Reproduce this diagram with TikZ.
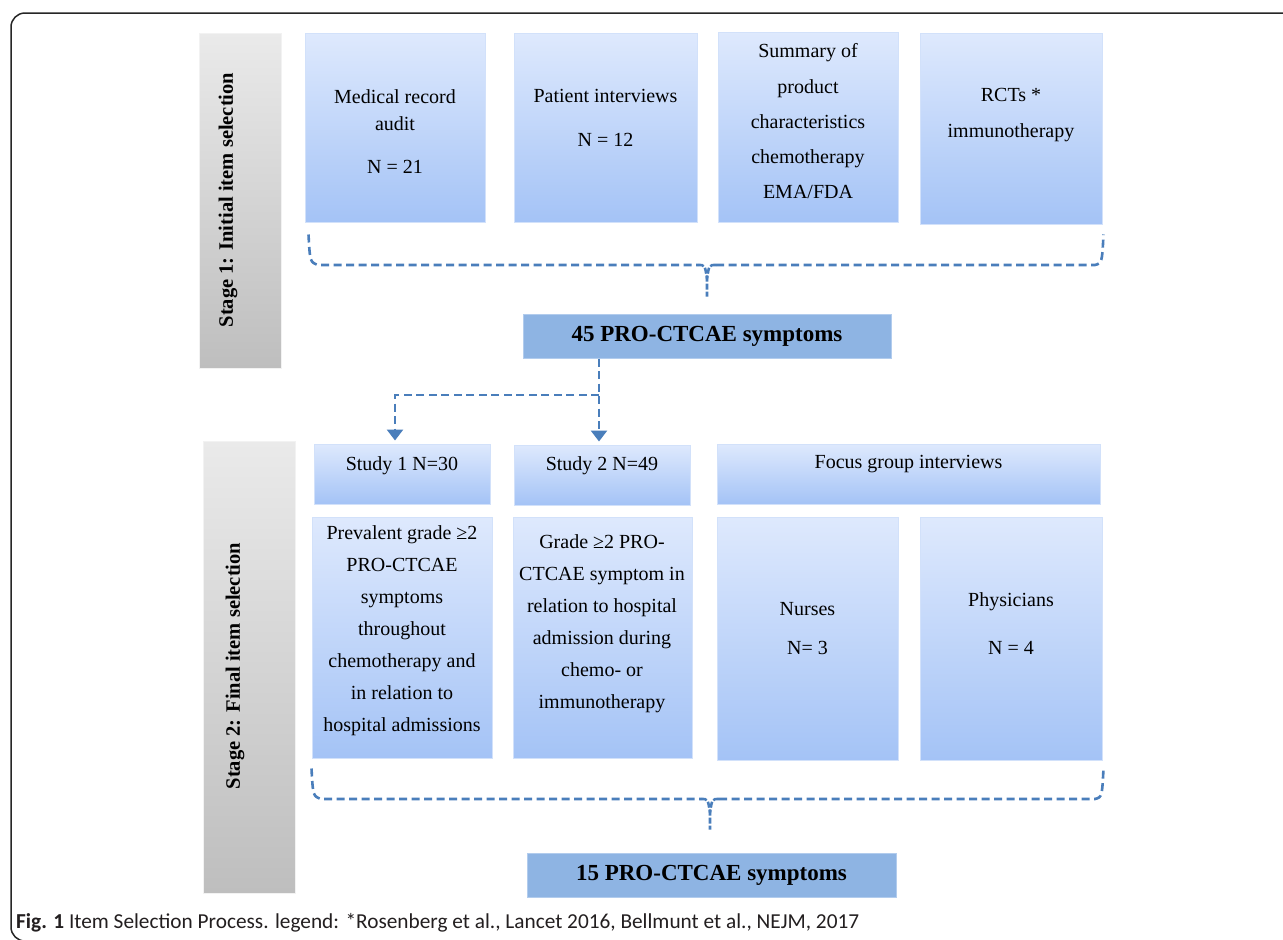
\documentclass[tikz,border=0pt]{standalone}
\usepackage{fontspec}
\setmainfont{Liberation Serif}
\newfontfamily\capfont{Carlito}
\usetikzlibrary{arrows.meta,calc}
\definecolor{boxtop}{RGB}{222,233,253}
\definecolor{boxbot}{RGB}{164,195,246}
\definecolor{boxedge}{RGB}{210,225,250}
\definecolor{sumfill}{RGB}{142,180,227}
\definecolor{sumedge}{RGB}{178,204,237}
\definecolor{grtop}{RGB}{234,234,234}
\definecolor{grbot}{RGB}{190,190,190}
\definecolor{dashc}{RGB}{74,126,187}
\definecolor{capc}{RGB}{35,31,32}
\begin{document}
\begin{tikzpicture}[x=1pt,y=-1pt,
 bluebox/.style={draw=boxedge, line width=1pt, top color=boxtop, bottom color=boxbot, inner sep=0pt},
 sumbox/.style={draw=sumedge, line width=1pt, fill=sumfill, inner sep=0pt},
 stagebar/.style={draw=grtop!60!white, line width=1pt, top color=grtop, bottom color=grbot, inner sep=0pt},
 txt/.style={font=\fontsize{20}{27}\selectfont, align=center, inner sep=0pt},
 bold/.style={font=\fontsize{23}{26}\selectfont\bfseries, inner sep=0pt},
 stagetxt/.style={font=\fontsize{20.5}{24}\selectfont\bfseries, rotate=90, inner sep=0pt},
 dashline/.style={draw=dashc, line width=2.6pt, dash pattern=on 8pt off 4.5pt},
 tip/.style={-{Triangle[width=16pt,length=11pt]}},
]
\useasboundingbox (0,0) rectangle (1283,940);
\fill[white] (0,0) rectangle (1283,940);
% frame
\draw[line width=1.5pt, draw=black!85, rounded corners=14pt] (11,13) rectangle (1310,941);

% stage bars
\node[stagebar, minimum width=82, minimum height=335] (st1) at (240,200.5) {};
\node[stagetxt] (st1t) at (228,200) {Stage 1: Initial item selection};
\node[stagebar, minimum width=92, minimum height=452] (st2) at (249,667) {};
\node[stagetxt] (st2t) at (235,666) {Stage 2: Final item selection};

% top row
\node[bluebox, minimum width=180, minimum height=189] (b1) at (395,127.5) {};
\node[bluebox, minimum width=183, minimum height=189] (b2) at (605.5,127.5) {};
\node[bluebox, minimum width=180, minimum height=190] (b3) at (808,127) {};
\node[bluebox, minimum width=182, minimum height=191] (b4) at (1011,128.5) {};
\node[txt] (b1a) at (395,110.5) {Medical record\\audit};
\node[txt] (b1b) at (395,167) {N = 21};
\node[txt] (b2a) at (605.5,96) {Patient interviews};
\node[txt] (b2b) at (605.5,140) {N = 12};
\node[txt, font=\fontsize{20}{35.25}\selectfont] (b3a) at (808,121.5) {Summary of\\product\\characteristics\\chemotherapy\\EMA/FDA};
\node[txt, font=\fontsize{20}{36}\selectfont] (b4a) at (1011,115) {RCTs *\\immunotherapy};

% 45 box
\node[sumbox, minimum width=368, minimum height=44] (t45) at (707,336) {};
\node[bold] (t45t) at (707,336) {45 PRO-CTCAE symptoms};

% stage 2 boxes
\node[bluebox, minimum width=176, minimum height=60] (s1) at (402,474) {};
\node[bluebox, minimum width=176, minimum height=60] (s2) at (602,475) {};
\node[bluebox, minimum width=383, minimum height=60] (fg) at (908.5,474) {};
\node[txt] (s1t) at (402,466) {Study 1 N=30};
\node[txt] (s2t) at (602,466) {Study 2 N=49};
\node[txt] (fgt) at (908.5,464) {Focus group interviews};

\node[bluebox, minimum width=180, minimum height=241] (r1) at (402,637.5) {};
\node[bluebox, minimum width=179, minimum height=241] (r2) at (602.5,637.5) {};
\node[bluebox, minimum width=181, minimum height=243] (nu) at (807.5,638.5) {};
\node[bluebox, minimum width=182, minimum height=243] (ph) at (1011,638.5) {};
\node[txt, font=\fontsize{20}{32}\selectfont] (r1t) at (402,631) {Prevalent grade ≥2\\PRO-CTCAE\\symptoms\\throughout\\chemotherapy and\\in relation to\\hospital admissions};
\node[txt, font=\fontsize{20}{32}\selectfont] (r2t) at (602,624) {Grade ≥2 PRO-\\CTCAE symptom in\\relation to hospital\\admission during\\chemo- or\\immunotherapy};
\node[txt, font=\fontsize{20}{39}\selectfont] (nut) at (807.5,628.5) {Nurses\\N= 3};
\node[txt, font=\fontsize{20}{48}\selectfont] (pht) at (1011,624) {Physicians\\N = 4};

% 15 box
\node[sumbox, minimum width=369, minimum height=44] (t15) at (711.5,875) {};
\node[bold] (t15t) at (711.5,875) {15 PRO-CTCAE symptoms};

% brace 1
\coordinate (k1l) at ($(b1.south west)+(4,12)$);
\coordinate (k1r) at ($(b4.south east)+(1,10)$);
\coordinate (k1m) at ($(t45.north)+(0,-17)$);
\draw[dashline] (k1l) .. controls (310,262) .. (318,265) -- (698,265);
\draw[dashline, dash pattern=on 6pt off 2pt] (698,265) .. controls (705,265) .. (707,279) -- (k1m);
\draw[dashline, dash pattern=on 6pt off 2pt] (716,265) .. controls (709,265) .. (707,279);
\draw[dashline] (716,265) -- (1095,265) .. controls (1102,263) .. (k1r);

% brace 2
\coordinate (k2l) at ($(r1.south west)+(0,10)$);
\coordinate (k2r) at ($(ph.south east)+(1,8)$);
\coordinate (k2m) at ($(t15.north)+(-1.5,-23)$);
\draw[dashline] (k2l) .. controls (313,796) .. (321,799) -- (701,799);
\draw[dashline, dash pattern=on 6pt off 2pt] (701,799) .. controls (708,799) .. (710,813) -- (k2m);
\draw[dashline, dash pattern=on 6pt off 2pt] (719,799) .. controls (712,799) .. (710,813);
\draw[dashline] (719,799) -- (1095,799) .. controls (1102,797) .. (k2r);

% arrows
\coordinate (a0) at ($(t45.south)+(-108,0)$);
\coordinate (a1) at ($(s2.north)+(-3,-3)$);
\coordinate (br) at (395,395);
\coordinate (a2) at ($(s1.north)+(-7,-3)$);
\draw[dashline, tip] (a0) -- (a1);
\draw[dashline, tip] (a0 |- br) -- (br) -- (a2);

% caption
\node[anchor=base west, font=\capfont\fontsize{21.3}{24}\selectfont, text=capc, inner sep=0pt] (cap) at (16,928) {\textbf{Fig. 1} Item Selection Process. legend: *Rosenberg et al., Lancet 2016, Bellmunt et al., NEJM, 2017};
\end{tikzpicture}
\end{document}
